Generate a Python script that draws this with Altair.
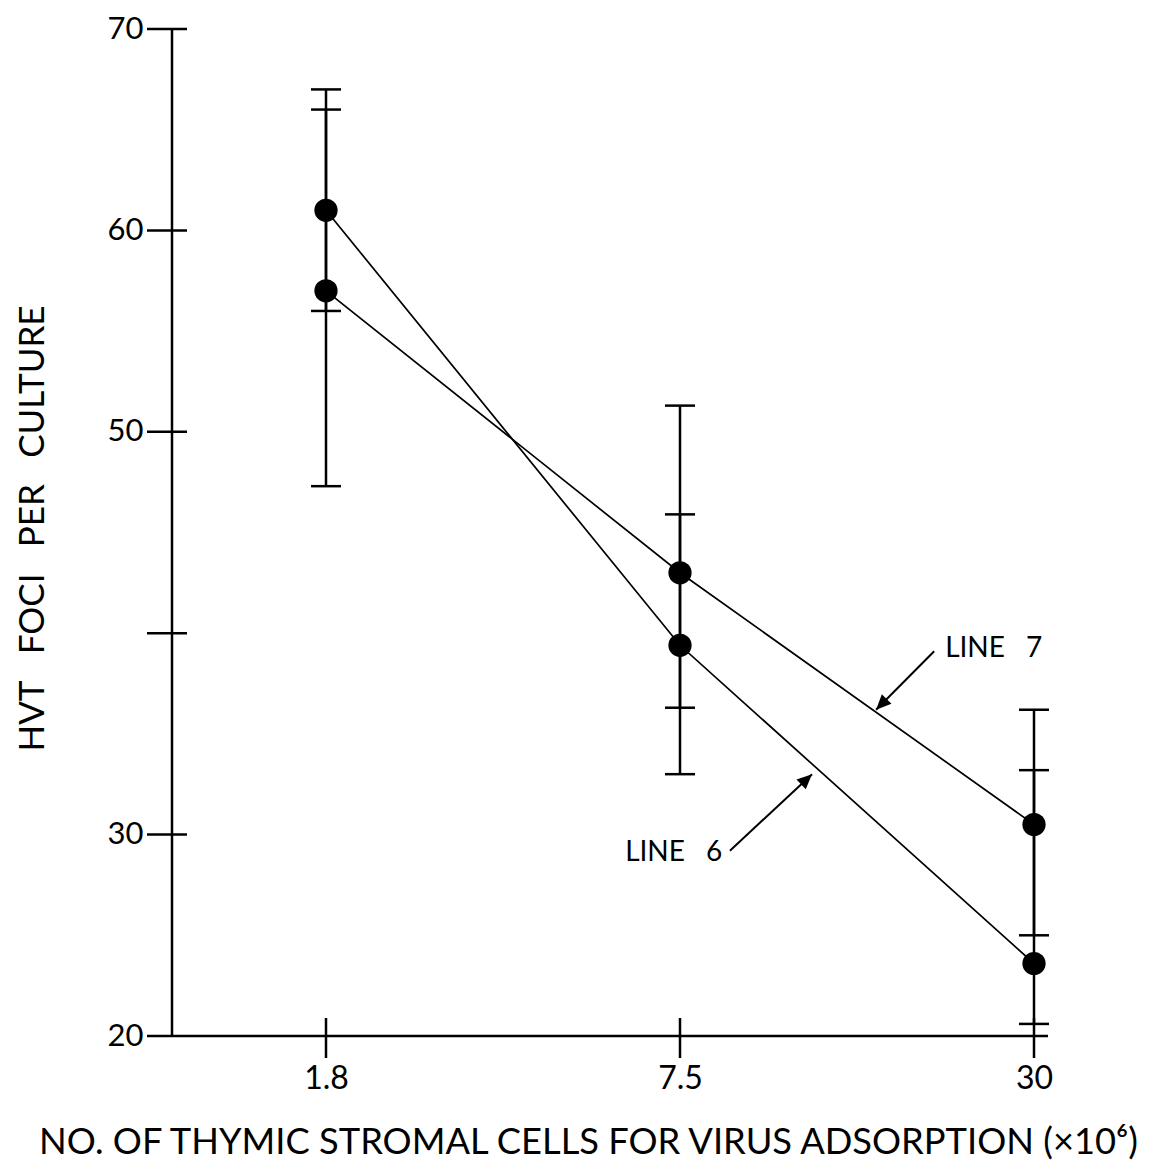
import altair as alt
import pandas as pd

# ---- data ----
doses = ["1.8", "7.5", "30"]          # x categories (x 10^6 cells)
pos = [0, 1, 2]                        # evenly spaced positions of the categories
line6 = [61.0, 39.4, 23.6]             # HVT foci per culture, LINE 6
line7 = [57.0, 43.0, 30.5]             # HVT foci per culture, LINE 7
line6_lo = [56.0, 33.0, 20.6]
line6_hi = [66.0, 45.9, 33.2]
line7_lo = [47.3, 36.3, 25.0]
line7_hi = [67.0, 51.3, 36.2]
y_ticks = [20, 30, 40, 50, 60, 70]
y_labelled = [20, 30, 50, 60, 70]

# annotation arrows (data coordinates): start -> tip
arrow_names = ["LINE\u20037", "LINE\u20036"]
arrow_x0 = [1.718, 1.141]
arrow_y0 = [39.1, 29.2]
arrow_x1 = [1.554, 1.373]
arrow_y1 = [36.2, 33.0]
arrow_angle = [224.5, 46.8]
label_x = [1.749, 0.845]
label_y = [38.8, 28.7]

W, H = 873, 1007
FONT = "Lato"

series = pd.DataFrame({
    "i": pos * 2,
    "v": line6 + line7,
    "lo": line6_lo + line7_lo,
    "hi": line6_hi + line7_hi,
    "s": ["LINE 6"] * 3 + ["LINE 7"] * 3,
})
caps = pd.DataFrame({
    "i": pos * 4,
    "v": line6_lo + line6_hi + line7_lo + line7_hi,
})
xt = pd.DataFrame({"i": pos, "d": doses})
yt = pd.DataFrame({"v": [t for t in y_ticks if t > 20]})
one = pd.DataFrame({"a": [0]})

arrows = pd.DataFrame({
    "name": arrow_names * 2,
    "o": [0, 0, 1, 1],
    "i": arrow_x0 + arrow_x1,
    "v": arrow_y0 + arrow_y1,
})
heads = pd.DataFrame({"i": arrow_x1, "v": arrow_y1, "ang": arrow_angle})
labels = pd.DataFrame({"i": label_x, "v": label_y, "t": arrow_names})

xscale = alt.Scale(domain=[-154 / 354, (W - 154) / 354], nice=False, zero=False)
yscale = alt.Scale(domain=[20, 70], nice=False, zero=False)

label_expr = " : ".join(
    [f"datum.value == {p} ? '{d}'" for p, d in zip(pos[:-1], doses[:-1])] + [f"'{doses[-1]}'"]
)
ylabel_expr = "indexof([" + ",".join(str(v) for v in y_labelled) + "], datum.value) >= 0 ? datum.label : ''"

x_axis = alt.Axis(
    values=pos, labelExpr=label_expr, ticks=False, domain=False, grid=False,
    labelFontSize=32, labelPadding=27, labelColor="black", labelFont=FONT,
    title="NO. OF THYMIC STROMAL CELLS FOR VIRUS ADSORPTION (×10⁶)",
    titleFontSize=36.3, titleFontWeight="normal", titleColor="black", titleFont=FONT,
    titleX=416, titleY=117, titleBaseline="alphabetic", titleAlign="center",
)
y_axis = alt.Axis(
    values=y_ticks, labelExpr=ylabel_expr, ticks=False, domain=False, grid=False,
    labelFontSize=31, labelPadding=29, labelColor="black", labelFont=FONT,
    title="HVT\u2003FOCI\u2003PER\u2003CULTURE", titleFontSize=35, titleFontWeight="normal",
    titleColor="black", titleFont=FONT, titleAngle=270, titleX=-140, titleY=499,
    titleAlign="center", titleBaseline="middle",
)


def X(f):
    return alt.X(f, scale=xscale, axis=x_axis)


def Y(f):
    return alt.Y(f, scale=yscale, axis=y_axis)


lines = alt.Chart(series).mark_line(color="black", strokeWidth=1.7).encode(
    x=X("i:Q"), y=Y("v:Q"), detail="s:N",
)
x_line = alt.Chart(one).mark_rule(color="black", strokeWidth=2.5).encode(
    x=alt.value(-25), x2=alt.value(876), y=alt.value(H)
)
y_line = alt.Chart(one).mark_rule(color="black", strokeWidth=2.5).encode(
    x=alt.value(0), y=alt.value(0), y2=alt.value(H)
)
x_ticks = alt.Chart(xt).mark_rule(color="black", strokeWidth=2.5).encode(
    x=X("i:Q"), y=alt.value(H - 18), y2=alt.value(H + 22)
)
y_ticks_m = alt.Chart(yt).mark_rule(color="black", strokeWidth=2.5).encode(
    y=Y("v:Q"), x=alt.value(-25), x2=alt.value(15)
)
err = alt.Chart(series).mark_rule(color="black", strokeWidth=2.5).encode(
    x=X("i:Q"), y=Y("lo:Q"), y2="hi:Q",
)
cap = alt.Chart(caps).mark_tick(color="black", orient="horizontal", size=30, thickness=2.5, opacity=1).encode(
    x=X("i:Q"), y=Y("v:Q"),
)
pts = alt.Chart(series).mark_circle(color="black", size=540, opacity=1).encode(
    x=X("i:Q"), y=Y("v:Q"),
)
arr = alt.Chart(arrows).mark_line(color="black", strokeWidth=2).encode(
    x=X("i:Q"), y=Y("v:Q"), detail="name:N", order="o:Q",
)
head = alt.Chart(heads).mark_point(
    shape="M0,0L-0.45,1L0.45,1Z", filled=True, color="black", opacity=1, size=900, strokeWidth=0
).encode(
    x=X("i:Q"), y=Y("v:Q"), angle=alt.Angle("ang:Q", scale=None),
)
txt = alt.Chart(labels).mark_text(
    align="left", baseline="alphabetic", fontSize=28, font=FONT, color="black"
).encode(
    x=X("i:Q"), y=Y("v:Q"), text="t:N",
)

chart = alt.layer(
    lines, x_line, y_line, x_ticks, y_ticks_m, err, cap, pts, arr, head, txt
).properties(
    width=W, height=H,
    autosize=alt.AutoSizeParams(type="none"),
    padding={"left": 164, "top": 21, "right": 97, "bottom": 128},
    background="white",
).configure_view(stroke=None)

chart.save("out.html", embed_options={"renderer": "svg", "actions": False})
